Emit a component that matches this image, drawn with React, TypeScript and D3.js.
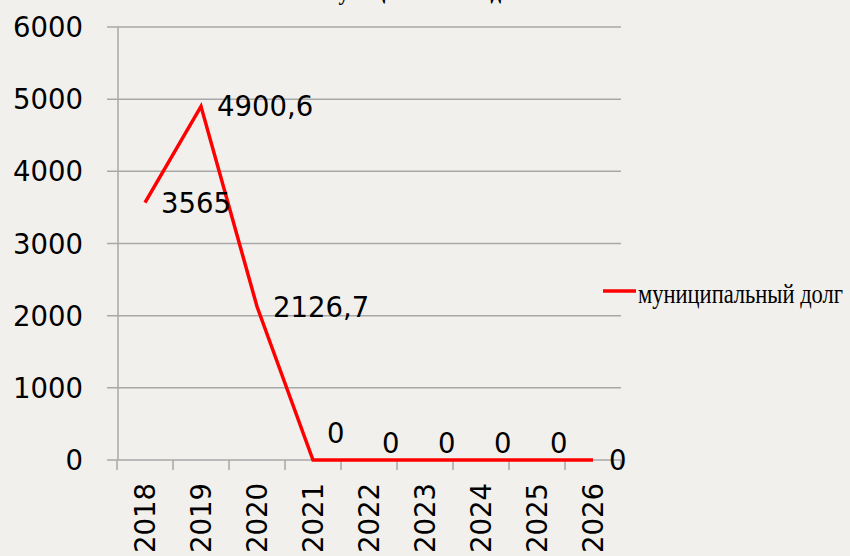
import React from "react";
import * as d3 from "d3";

const years = ["2018", "2019", "2020", "2021", "2022", "2023", "2024", "2025", "2026"];
const debt = [3565, 4900.6, 2126.7, 0, 0, 0, 0, 0, 0];
const debtLabels = ["3565", "4900,6", "2126,7", "0", "0", "0", "0", "0", "0"];
const yTicks = [0, 1000, 2000, 3000, 4000, 5000, 6000];
const seriesName = "муниципальный долг";
const title = "Объем муниципального долга";

const W = 850;
const H = 556;
const plot = { left: 118, right: 621, top: 27, bottom: 460 };
const numFont = "'DejaVu Sans', Verdana, sans-serif";
const numSize = 27.5;
const grid = "#a8a8a8";

const App = () => {
  const x = d3.scaleBand().domain(years).range([plot.left - 1, plot.right]);
  const y = d3.scaleLinear().domain([0, 6000]).range([plot.bottom, plot.top]);
  const cx = (d: string) => (x(d) as number) + x.bandwidth() / 2;

  const line = d3
    .line<number>()
    .x((_, i) => cx(years[i]))
    .y((d) => y(d));

  // Excel nudged the zero labels so they don't collide with the line
  const labelPos = (v: number, i: number) => {
    const px = cx(years[i]);
    const py = y(v);
    if (v !== 0 || i === debt.length - 1) return { x: px + 16, y: py };
    if (i === 3) return { x: px + 14, y: py - 27 };
    return { x: px + 13, y: py - 17 };
  };

  return (
    <svg
      width={W}
      height={H}
      style={{ position: "absolute", left: 0, top: 0, display: "block" }}
    >
      <rect width={W} height={H} fill="#f1f0ed" />

      {/* title sits mostly above the frame, like the source */}
      <text
        x={400}
        y={0}
        textAnchor="middle"
        fontFamily="'Liberation Serif', 'Times New Roman', serif"
        fontWeight="bold"
        fontSize={21}
        fill="#000"
      >
        {title}
      </text>

      {/* gridlines + y axis ticks */}
      {yTicks.map((t) => (
        <g key={t}>
          <line x1={plot.left - 11} x2={plot.right} y1={y(t)} y2={y(t)} stroke={grid} strokeWidth={1.5} />
          <text
            x={83}
            y={y(t)}
            textAnchor="end"
            dominantBaseline="central"
            fontFamily={numFont}
            fontSize={numSize}
            fill="#000"
          >
            {t}
          </text>
        </g>
      ))}
      <line x1={plot.left} x2={plot.left} y1={plot.top} y2={plot.bottom} stroke={grid} strokeWidth={1.5} />

      {/* x axis ticks and labels */}
      {years.map((yr) => (
        <g key={yr}>
          <line
            x1={x(yr) as number}
            x2={x(yr) as number}
            y1={plot.bottom}
            y2={plot.bottom + 10}
            stroke={grid}
            strokeWidth={1.5}
          />
          <text
            transform={`translate(${cx(yr)},483) rotate(-90)`}
            textAnchor="end"
            dominantBaseline="central"
            fontFamily={numFont}
            fontSize={numSize}
            fill="#000"
          >
            {yr}
          </text>
        </g>
      ))}
      <line x1={plot.right} x2={plot.right} y1={plot.bottom} y2={plot.bottom + 10} stroke={grid} strokeWidth={1.5} />

      <path d={line(debt) || ""} fill="none" stroke="#ff0000" strokeWidth={3.5} strokeLinejoin="miter" />

      {debt.map((v, i) => {
        const p = labelPos(v, i);
        return (
          <text
            key={i}
            x={p.x}
            y={p.y}
            dominantBaseline="central"
            fontFamily={numFont}
            fontSize={numSize}
            fill="#000"
          >
            {debtLabels[i]}
          </text>
        );
      })}

      {/* legend */}
      <line x1={603} x2={636} y1={291} y2={291} stroke="#ff0000" strokeWidth={3.5} />
      <text
        transform="translate(638,303) scale(1,1.2)"
        fontFamily="'Liberation Serif', 'Times New Roman', serif"
        fontSize={22.5}
        fill="#000"
      >
        {seriesName}
      </text>
    </svg>
  );
};

export default App;
